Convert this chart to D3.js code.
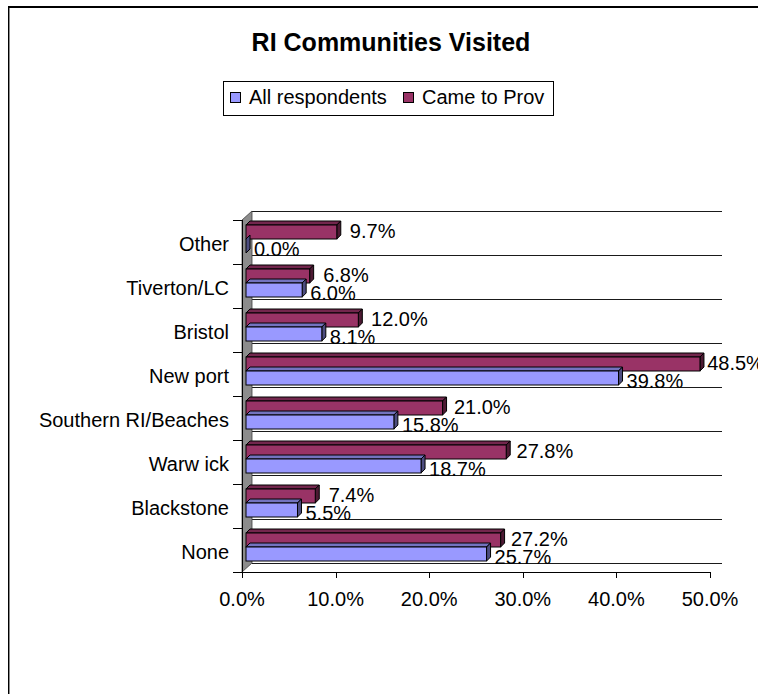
<!DOCTYPE html>
<html>
<head>
<meta charset="utf-8">
<script src="https://cdn.jsdelivr.net/npm/d3@7"></script>
<style>
  html, body { margin: 0; padding: 0; background: #fff; }
  svg { display: block; }
  text { font-family: "Liberation Sans", Arial, sans-serif; fill: #000; }
</style>
</head>
<body>
<svg id="chart" width="758" height="694"></svg>
<script>
// RI communities visited, share of respondents (%)
const categories = ["Other", "Tiverton/LC", "Bristol", "New port", "Southern RI/Beaches", "Warw ick", "Blackstone", "None"];
const allRespondents = [0.0, 6.0, 8.1, 39.8, 15.8, 18.7, 5.5, 25.7];
const cameToProv = [9.7, 6.8, 12.0, 48.5, 21.0, 27.8, 7.4, 27.2];
const seriesNames = ["All respondents", "Came to Prov"];
const xTicks = [0, 10, 20, 30, 40, 50];

const colors = {
  blue:   { front: "#9999ff", top: "#7373bf", side: "#4d4d80" },
  maroon: { front: "#993366", top: "#73264d", side: "#4d1a33" }
};

const svg = d3.select("#chart");
const W = 758, H = 694;

// outer chart frame (runs off the right and bottom edges)
svg.append("rect").attr("x", 8).attr("y", 6).attr("width", W).attr("height", 2).attr("fill", "#000");
svg.append("rect").attr("x", 8).attr("y", 6).attr("width", 1).attr("height", H).attr("fill", "#000");
svg.append("rect").attr("x", 9).attr("y", 8).attr("width", 1).attr("height", H).attr("fill", "#8c8c8c");

// title
svg.append("text")
  .attr("x", 391).attr("y", 51)
  .attr("text-anchor", "middle")
  .style("font-size", "25px").style("font-weight", "bold")
  .text("RI Communities Visited");

// legend
const legend = svg.append("g");
legend.append("rect").attr("x", 223.5).attr("y", 81.5).attr("width", 330).attr("height", 34)
  .attr("fill", "#fff").attr("stroke", "#000").attr("stroke-width", 1);
const legendItems = [
  { name: seriesNames[0], color: colors.blue.front, x: 230 },
  { name: seriesNames[1], color: colors.maroon.front, x: 403 }
];
legendItems.forEach(d => {
  legend.append("rect").attr("x", d.x + 0.5).attr("y", 92.5).attr("width", 10).attr("height", 10)
    .attr("fill", d.color).attr("stroke", "#000").attr("stroke-width", 1);
  legend.append("text").attr("x", d.x + 19).attr("y", 104)
    .style("font-size", "20px").text(d.name);
});

// 3D projection: front plane scales plus a depth offset toward the back wall
const x = d3.scaleLinear().domain([0, 50]).range([242, 710]);
const y = d3.scaleBand().domain(categories).range([220, 572]);
const depth = [10, -9];          // front plane -> back wall
const barOff = [4, -4];          // front face of the bars
const barDepth = [4, -4];        // thickness of each bar
const barH = 14;

const plot = svg.append("g");

// back wall gridlines at category boundaries
const bounds = d3.range(categories.length + 1).map(i => y.range()[0] + i * y.step());
plot.selectAll("line.grid").data(bounds).enter().append("line")
  .attr("x1", x(0) + depth[0]).attr("x2", x(50) + depth[0] + 2)
  .attr("y1", d => d + depth[1] + 0.5).attr("y2", d => d + depth[1] + 0.5)
  .attr("stroke", "#1a1a1a").attr("stroke-width", 1);

// left side wall
const y0 = y.range()[0], y1 = y.range()[1];
plot.append("path")
  .attr("d", d3.line()([
    [x(0), y0], [x(0) + depth[0], y0 + depth[1]],
    [x(0) + depth[0], y1 + depth[1]], [x(0), y1]
  ]) + "Z")
  .attr("fill", "#8c8c8c").attr("stroke", "#404040").attr("stroke-width", 0.8);

// category tick marks on the front edge
plot.selectAll("line.ctick").data(bounds).enter().append("line")
  .attr("x1", x(0) - 9).attr("x2", x(0))
  .attr("y1", d => d + 0.5).attr("y2", d => d + 0.5)
  .attr("stroke", "#000").attr("stroke-width", 1);

// value axis along the front of the floor
plot.append("line")
  .attr("x1", x(0)).attr("x2", x(50))
  .attr("y1", y1 + 0.5).attr("y2", y1 + 0.5)
  .attr("stroke", "#000").attr("stroke-width", 1);
plot.append("line")
  .attr("x1", x(0) + 0.5).attr("x2", x(0) + 0.5)
  .attr("y1", y0).attr("y2", y1)
  .attr("stroke", "#000").attr("stroke-width", 1);
plot.selectAll("line.xtick").data(xTicks).enter().append("line")
  .attr("x1", d => Math.round(x(d)) + 0.5).attr("x2", d => Math.round(x(d)) + 0.5)
  .attr("y1", y1).attr("y2", y1 + 6)
  .attr("stroke", "#000").attr("stroke-width", 1);
plot.selectAll("text.xtick").data(xTicks).enter().append("text")
  .attr("x", d => x(d)).attr("y", 606)
  .attr("text-anchor", "middle")
  .style("font-size", "20px")
  .text(d => d.toFixed(1) + "%");

// category labels
plot.selectAll("text.cat").data(categories).enter().append("text")
  .attr("x", 229)
  .attr("y", d => y(d) + y.bandwidth() / 2 + 9)
  .attr("text-anchor", "end")
  .style("font-size", "20px")
  .text(d => d);

// one 3D bar: front face, top face, right side face
function bar3d(g, v, top, col) {
  const xa = x(0) + barOff[0];
  const xb = x(v) + barOff[0];
  const t = top + barOff[1], b = t + barH;
  const dx = barDepth[0], dy = barDepth[1];
  const line = d3.line();
  g.append("path").attr("d", line([[xa, t], [xa + dx, t + dy], [xb + dx, t + dy], [xb, t]]) + "Z")
    .attr("fill", col.top).attr("stroke", "#000").attr("stroke-width", 1).attr("stroke-linejoin", "round");
  g.append("path").attr("d", line([[xb, t], [xb + dx, t + dy], [xb + dx, b + dy], [xb, b]]) + "Z")
    .attr("fill", col.side).attr("stroke", "#000").attr("stroke-width", 1).attr("stroke-linejoin", "round");
  g.append("rect").attr("x", xa).attr("y", t).attr("width", Math.max(0, xb - xa)).attr("height", barH)
    .attr("fill", col.front).attr("stroke", "#000").attr("stroke-width", 1);
}

// label positions for the series placed above each pair
const labelX = d3.scaleLinear().domain([0, 50]).range([260.5, 721]);

const bars = plot.append("g");
categories.forEach((c, i) => {
  const mid = y(c) + y.bandwidth() / 2 + 1;   // line between the two bars of a pair
  // blue bar sits in front of (below) the maroon one, so draw maroon first
  bar3d(bars, cameToProv[i], mid - barH, colors.maroon);
  bar3d(bars, allRespondents[i], mid, colors.blue);

  bars.append("text")
    .attr("x", labelX(cameToProv[i]))
    .attr("y", mid - barH + barOff[1] + barH / 2 - 1)
    .attr("dominant-baseline", "central")
    .style("font-size", "20px")
    .text(cameToProv[i].toFixed(1) + "%");
  bars.append("text")
    .attr("x", x(allRespondents[i]) + barOff[0] + barDepth[0] + 4)
    .attr("y", mid + barOff[1] + barH / 2 + 3)
    .attr("dominant-baseline", "central")
    .style("font-size", "20px")
    .text(allRespondents[i].toFixed(1) + "%");
});
</script>
</body>
</html>
